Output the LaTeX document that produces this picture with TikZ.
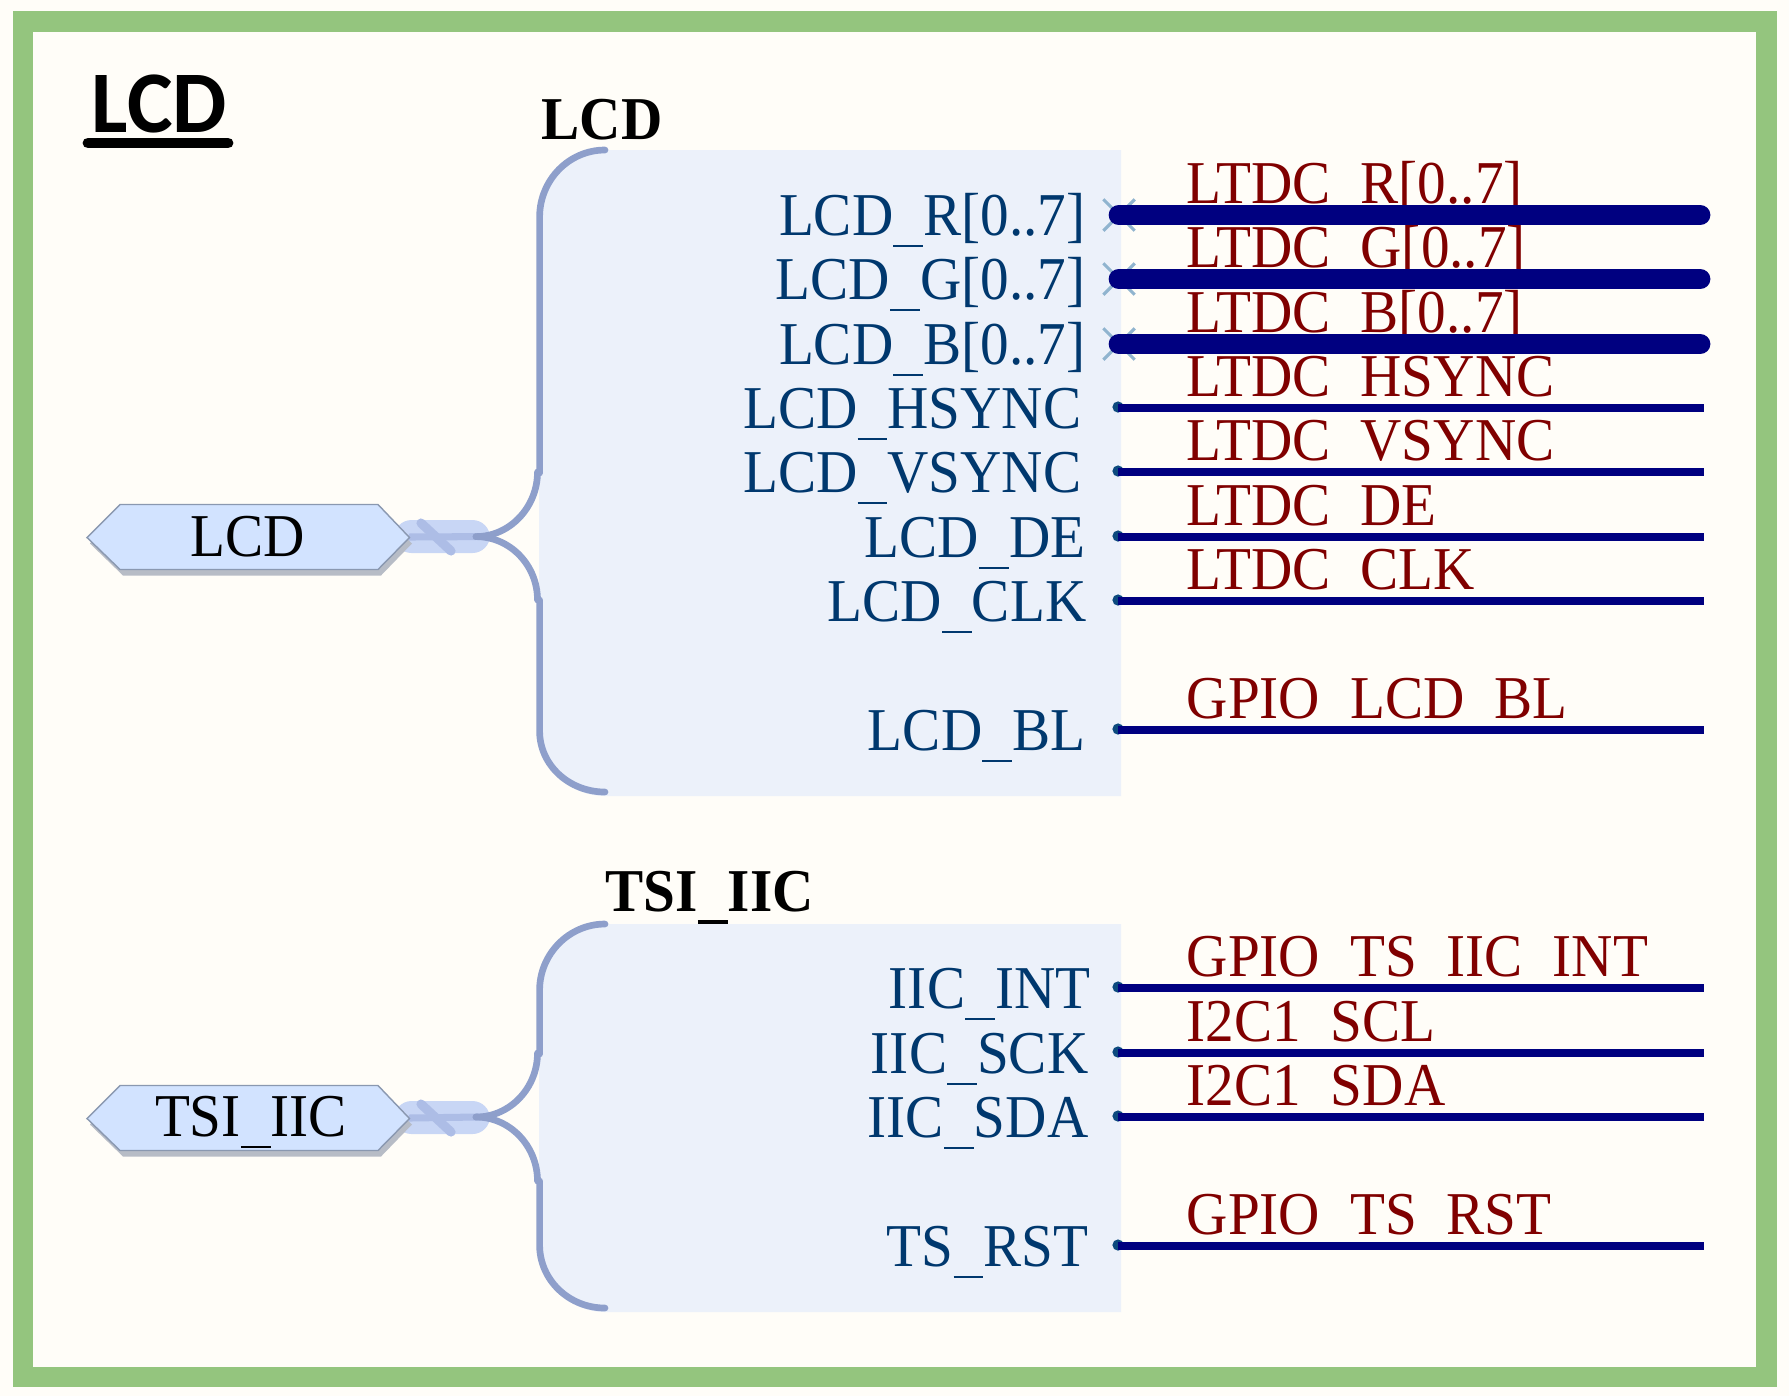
\documentclass[tikz,border=0pt]{standalone}
\usepackage{fontspec}
\setmainfont[FakeStretch=0.94]{Liberation Serif}
\newfontfamily\titlefont[FakeStretch=0.98]{Carlito}
\usetikzlibrary{shapes.misc,positioning}
\definecolor{paper}{HTML}{FFFDF8}
\definecolor{frame}{HTML}{94C57E}
\definecolor{sheet}{HTML}{ECF1FA}
\definecolor{brace}{HTML}{8E9FCB}
\definecolor{pill}{HTML}{C8D6F5}
\definecolor{tie}{HTML}{ADBDE6}
\definecolor{port}{HTML}{D2E3FF}
\definecolor{portedge}{HTML}{8A98B0}
\definecolor{portshade}{HTML}{B7BCC6}
\definecolor{pinblue}{HTML}{00386E}
\definecolor{dotblue}{HTML}{0C4A7E}
\definecolor{netred}{HTML}{800000}
\definecolor{wire}{HTML}{000080}
\definecolor{crossblue}{HTML}{90B4CF}
\newcommand{\usc}{\rule[-3.4pt]{8.5pt}{0.7pt}}
\newcommand{\uscb}{\rule[-3.7pt]{8.5pt}{1.35pt}}
\begin{document}
\begin{tikzpicture}[x=0.01cm,y=-0.01cm,
txt/.style = {inner sep = 0pt,font=\fontsize{17.3}{20}\selectfont},
head/.style = {txt,anchor=base west,font=\fontsize{17.3}{20}\selectfont\bfseries},
pinlbl/.style = {txt,anchor=base east,text=pinblue},
netlbl/.style = {txt,anchor=base west,text=netred},
pin/.style = {circle,fill=dotblue,inner sep=0pt,minimum size=3.2pt},
buspin/.style = {cross out,draw=crossblue,line width=0.9pt,inner sep=0pt,minimum width=8pt,minimum height=8pt},
net/.style = {wire,line width=2.45pt},
bus/.style = {wire,line width=5.9pt,line cap=round},
brc/.style = {brace,line width=1.9pt,line cap=round},
portname/.style = {txt,anchor=base,text=black},
]
\useasboundingbox (0,0) rectangle (1789,1396);
\fill[paper] (0,0) rectangle (1789,1396);
\draw[frame,line width=5.9pt] (23,21.5) rectangle (1766.5,1377);
% title
\node (title) at (91,132)[txt,anchor=base west,font=\titlefont\fontsize{25}{27}\selectfont\bfseries] {LCD};
\coordinate (ulA) at (88,143);
\coordinate (ulB) at (228,143);
\draw[line width=3.1pt,line cap=round] (ulA)--(ulB);
% LCD sheet
\fill[sheet] (605,150) .. controls (569,150) and (539,180) .. (539,217) -- (539,730) .. controls (539,767) and (569,796) .. (605,796) -- (1121,796) -- (1121,150) -- cycle;
\node (lcdhead) at (541,139)[head] {LCD};
\coordinate (lcdjoin) at (476,536.6);
\fill[pill,rounded corners=5pt] (394,520) rectangle (490,553);
\coordinate (lcdslashA) at (421,523);
\coordinate (lcdslashB) at (451,551);
\draw[tie,line width=2.6pt,line cap=round] (lcdslashA)--(lcdslashB);
\coordinate (lcdport) at (409,537);
\draw[tie,line width=2pt] (lcdport)--(lcdjoin);
\draw[brc] (605,150) .. controls (569,150) and (539.6,180) .. (539.6,217) -- (539.6,473);
\draw[brc] (537.5,472) .. controls (537.5,507) and (510,536.6) .. (lcdjoin);
\draw[brc] (lcdjoin) .. controls (510,536.6) and (537.5,565) .. (537.5,600);
\draw[brc] (539.6,600) -- (539.6,731) .. controls (539.6,765) and (569,792) .. (605,792);
\fill[portshade] (90,543.5)--(123,575.5)--(381,575.5)--(412,543.5)--(378,510.5)--(120,510.5)--cycle;
\draw[draw=portedge,fill=port,line width=0.4pt] (87,537.5)--(120,504.5)--(378,504.5)--(409.5,537.5)--(378,569.5)--(120,569.5)--cycle;
\node (lcdname) at (248,556.5)[portname] {LCD};
% LCD pins
\node (lblR) at (1086,235)[pinlbl] {LCD\usc R[0..7]};
\node (lblG) at (1086,299)[pinlbl] {LCD\usc G[0..7]};
\node (lblB) at (1086,364)[pinlbl] {LCD\usc B[0..7]};
\node (lblH) at (1082,428)[pinlbl] {LCD\usc HSYNC};
\node (lblV) at (1082,492)[pinlbl] {LCD\usc VSYNC};
\node (lblD) at (1086,557)[pinlbl] {LCD\usc DE};
\node (lblC) at (1087,621)[pinlbl] {LCD\usc CLK};
\node (lblL) at (1086,750)[pinlbl] {LCD\usc BL};
% LCD nets
\node (netR) at (1186,203)[netlbl] {LTDC\usc R[0..7]};
\node (netG) at (1186,267)[netlbl] {LTDC\usc G[0..7]};
\node (netB) at (1186,332)[netlbl] {LTDC\usc B[0..7]};
\node (netH) at (1186,396)[netlbl] {LTDC\usc HSYNC};
\node (netV) at (1186,460)[netlbl] {LTDC\usc VSYNC};
\node (netD) at (1186,525)[netlbl] {LTDC\usc DE};
\node (netC) at (1186,589)[netlbl] {LTDC\usc CLK};
\node (netL) at (1186,718)[netlbl] {GPIO\usc LCD\usc BL};
\node (pR) at (1119,215)[buspin] {};
\node (pG) at (1119,279)[buspin] {};
\node (pB) at (1119,344)[buspin] {};
\node (pH) at (1118,407)[pin] {};
\node (pV) at (1118,471)[pin] {};
\node (pD) at (1118,536)[pin] {};
\node (pC) at (1118,600)[pin] {};
\node (pL) at (1118,729)[pin] {};
\coordinate (eR) at (1700,215);
\coordinate (eG) at (1700,279);
\coordinate (eB) at (1700,344);
\coordinate (eH) at (1704,408);
\coordinate (eV) at (1704,472);
\coordinate (eD) at (1704,537);
\coordinate (eC) at (1704,601);
\coordinate (eL) at (1704,730);
\draw[bus] (pR.center)--(eR);
\draw[bus] (pG.center)--(eG);
\draw[bus] (pB.center)--(eB);
\draw[net] (pH.center |- eH)--(eH);
\draw[net] (pV.center |- eV)--(eV);
\draw[net] (pD.center |- eD)--(eD);
\draw[net] (pC.center |- eC)--(eC);
\draw[net] (pL.center |- eL)--(eL);
% TSI_IIC sheet
\node (tsihead) at (605,911.5)[head] {TSI\uscb IIC};
\fill[sheet] (605,924) .. controls (569,924) and (539,954) .. (539,990) -- (539,1245) .. controls (539,1282) and (569,1312) .. (605,1312) -- (1121,1312) -- (1121,924) -- cycle;
\coordinate (tsijoin) at (476,1117);
\fill[pill,rounded corners=5pt] (394,1101) rectangle (490,1134);
\coordinate (tsislashA) at (421,1104);
\coordinate (tsislashB) at (451,1132);
\draw[tie,line width=2.6pt,line cap=round] (tsislashA)--(tsislashB);
\coordinate (tsiport) at (409,1118);
\draw[tie,line width=2pt] (tsiport)--(tsijoin);
\draw[brc] (605,924) .. controls (569,924) and (539.6,954) .. (539.6,990) -- (539.6,1054);
\draw[brc] (537.5,1053) .. controls (537.5,1088) and (510,1117) .. (tsijoin);
\draw[brc] (tsijoin) .. controls (510,1117) and (537.5,1146) .. (537.5,1181);
\draw[brc] (539.6,1181) -- (539.6,1245) .. controls (539.6,1280) and (569,1308) .. (605,1308);
\fill[portshade] (90,1124.5)--(123,1156.5)--(381,1156.5)--(412,1124.5)--(378,1091.5)--(120,1091.5)--cycle;
\draw[draw=portedge,fill=port,line width=0.4pt] (87,1118.5)--(120,1085.5)--(378,1085.5)--(409.5,1118.5)--(378,1150.5)--(120,1150.5)--cycle;
\node (tsiname) at (251,1136.5)[portname] {TSI\usc IIC};
% TSI_IIC pins
\node (lblI) at (1091,1008)[pinlbl] {IIC\usc INT};
\node (lblS) at (1089,1073)[pinlbl] {IIC\usc SCK};
\node (lblA) at (1089,1137)[pinlbl] {IIC\usc SDA};
\node (lblT) at (1089,1266)[pinlbl] {TS\usc RST};
\node (netI) at (1186,976)[netlbl] {GPIO\usc TS\usc IIC\usc INT};
\node (netS) at (1186,1041)[netlbl] {I2C1\usc SCL};
\node (netA) at (1186,1105)[netlbl] {I2C1\usc SDA};
\node (netT) at (1186,1234)[netlbl] {GPIO\usc TS\usc RST};
\node (pI) at (1118,987)[pin] {};
\node (pS) at (1118,1052)[pin] {};
\node (pA) at (1118,1116)[pin] {};
\node (pT) at (1118,1245)[pin] {};
\coordinate (eI) at (1704,988);
\coordinate (eS) at (1704,1053);
\coordinate (eA) at (1704,1117);
\coordinate (eT) at (1704,1246);
\draw[net] (pI.center |- eI)--(eI);
\draw[net] (pS.center |- eS)--(eS);
\draw[net] (pA.center |- eA)--(eA);
\draw[net] (pT.center |- eT)--(eT);
\end{tikzpicture}
\end{document}
